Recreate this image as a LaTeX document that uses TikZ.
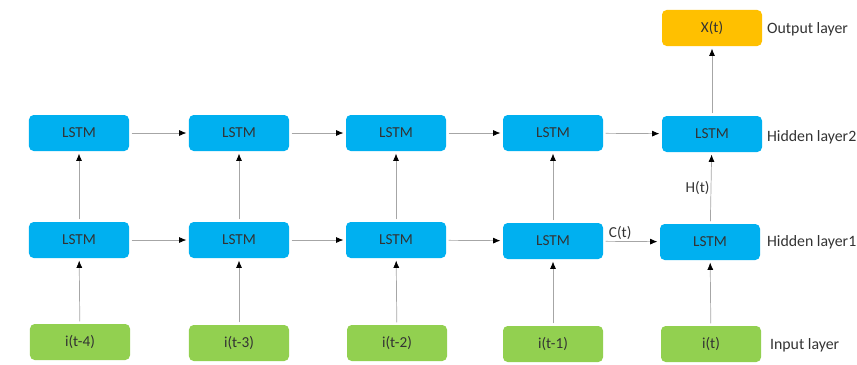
\documentclass[tikz,border=0pt]{standalone}
\usepackage{fontspec}
\setmainfont{Carlito}
\usepackage{tikz}
\usepackage{xcolor}
\usetikzlibrary{
    arrows.meta,
    positioning
}
\definecolor{lstmblue}{HTML}{00B0F0}
\definecolor{ingreen}{HTML}{92D050}
\definecolor{outorange}{HTML}{FFC000}
\definecolor{wiregray}{HTML}{A6A6A6}
\tikzset{
    cell/.style={rounded corners=4pt, minimum width=3cm, minimum height=1.08cm,
        font=\fontsize{13}{15}\selectfont, text=black!80},
    lstm/.style={cell, fill=lstmblue},
    inbox/.style={cell, fill=ingreen},
    outbox/.style={cell, fill=outorange},
    layertext/.style={anchor=west, font=\fontsize{13.5}{15}\selectfont, text=black!80},
    wirelabel/.style={font=\fontsize{13}{15}\selectfont, text=black!80},
    wire/.style={draw=wiregray, line width=0.6pt, -{Latex[black,length=2.2mm,width=1.8mm]},
        shorten >=2pt, shorten <=2pt}
}

\begin{document}
\begin{tikzpicture}[x=0.03cm, y=-0.03cm]
                        \useasboundingbox (0, 0) rectangle (857, 365);

                        \node[outbox] (x5) at (712, 28) {X(t)};

                        \node[lstm] (b1) at (79, 133) {LSTM};
                        \node[lstm] (b2) at (239, 133) {LSTM};
                        \node[lstm] (b3) at (396, 133) {LSTM};
                        \node[lstm] (b4) at (553, 133) {LSTM};
                        \node[lstm] (b5) at (712, 134) {LSTM};

                        \node[lstm] (a1) at (79, 240) {LSTM};
                        \node[lstm] (a2) at (239, 240) {LSTM};
                        \node[lstm] (a3) at (396, 240) {LSTM};
                        \node[lstm] (a4) at (553, 241) {LSTM};
                        \node[lstm] (a5) at (710, 242) {LSTM};

                        \node[inbox] (i1) at (80, 342) {i(t-4)};
                        \node[inbox] (i2) at (239, 343) {i(t-3)};
                        \node[inbox] (i3) at (397, 343) {i(t-2)};
                        \node[inbox] (i4) at (553, 344) {i(t-1)};
                        \node[inbox] (i5) at (711, 344) {i(t)};

                        \node[layertext] (lo) at (763, 29) {Output layer};
                        \node[layertext] (l2) at (763, 137) {Hidden layer2};
                        \node[layertext] (l1) at (763, 242) {Hidden layer1};
                        \node[layertext] (li) at (766, 345) {Input layer};

                        \draw[wire] (i1) -- (a1);
                        \draw[wire] (i2) -- (a2);
                        \draw[wire] (i3) -- (a3);
                        \draw[wire] (i4) -- (a4);
                        \draw[wire] (i5) -- (a5);

                        \draw[wire] (a1) -- (b1);
                        \draw[wire] (a2) -- (b2);
                        \draw[wire] (a3) -- (b3);
                        \draw[wire] (a4) -- (b4);
                        \draw[wire] (a5) -- node[left, wirelabel, inner sep=1pt] {H(t)} (b5);
                        \draw[wire] (b5) -- (x5);

                        \draw[wire] (b1) -- (b2);
                        \draw[wire] (b2) -- (b3);
                        \draw[wire] (b3) -- (b4);
                        \draw[wire] (b4) -- (b5);

                        \draw[wire] (a1) -- (a2);
                        \draw[wire] (a2) -- (a3);
                        \draw[wire] (a3) -- (a4);
                        \draw[wire] (a4) -- node[above, pos=0.3, wirelabel, inner sep=1pt] {C(t)} (a5);
\end{tikzpicture}
\end{document}
